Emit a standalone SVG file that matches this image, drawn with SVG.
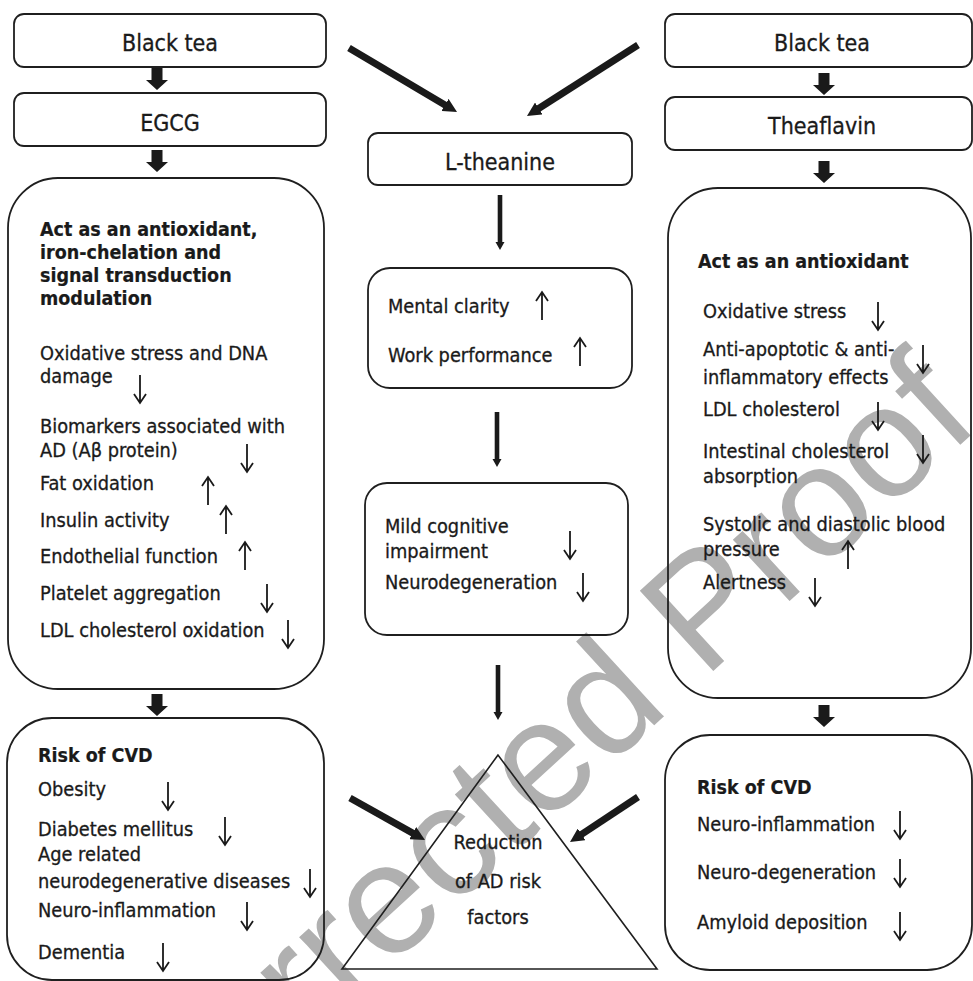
<svg xmlns="http://www.w3.org/2000/svg" xmlns:xlink="http://www.w3.org/1999/xlink" width="973" height="981" viewBox="0 0 973 981">
<style>
.bg{fill:#ffffff}
.box{fill:none;stroke:#1f1f1f;stroke-width:1.8}
.tri{fill:none;stroke:#1f1f1f;stroke-width:1.6}
.t{font-family:'DejaVu Sans Condensed','DejaVu Sans',sans-serif;font-stretch:condensed;font-size:19.8px;fill:#1a1a1a;stroke:#1a1a1a;stroke-width:0.3}
.b{font-weight:bold;font-size:19.5px;stroke-width:0.2}
.h{font-size:23px;text-anchor:middle}
.c{text-anchor:middle}
.sm{fill:none;stroke:#1a1a1a;stroke-width:1.8}
.blk{fill:#1a1a1a}
.dg{stroke:#1a1a1a;stroke-width:7;fill:none}
.wm{font-family:'Liberation Sans',Arial,sans-serif;font-size:158px;fill:#b0b0b0}
</style>
<defs>
<path id="blk" d="M-5.5,0 H5.5 V12 H11 L0,22 L-11,12 H-5.5 Z"/>
<path id="thin" d="M-2.3,0 H2.3 V47 H4.5 L0,55 L-4.5,47 H-2.3 Z"/>
<path id="dn" d="M0,0 V28 M-6,19 L0,28 L6,19"/>
<path id="up" d="M0,28 V0 M-6,9 L0,0 L6,9"/>
<marker id="ah" markerWidth="14" markerHeight="14" refX="2" refY="7" orient="auto" markerUnits="userSpaceOnUse"><path d="M0,0 L14,7 L0,14 z" fill="#1a1a1a"/></marker>
</defs>
<rect class="bg" x="0" y="0" width="973" height="981"/>
<text class="wm" transform="translate(160,1178) rotate(-42.5)">Corrected Proof</text>

<g id="connectors">
<use href="#blk" class="blk" x="157" y="68"/>
<use href="#blk" class="blk" x="157" y="150"/>
<use href="#blk" class="blk" x="157" y="694"/>
<use href="#blk" class="blk" x="824" y="73"/>
<use href="#blk" class="blk" x="824" y="161"/>
<use href="#blk" class="blk" x="824" y="705"/>
<use href="#thin" class="blk" x="500" y="195"/>
<use href="#thin" class="blk" x="497" y="412"/>
<use href="#thin" class="blk" x="498" y="665"/>
<line class="dg" x1="349" y1="48" x2="446.7" y2="105.9" marker-end="url(#ah)"/>
<line class="dg" x1="638" y1="45" x2="537.1" y2="109.5" marker-end="url(#ah)"/>
<line class="dg" x1="350" y1="798" x2="414.5" y2="834.1" marker-end="url(#ah)"/>
<line class="dg" x1="638" y1="797" x2="580" y2="835.4" marker-end="url(#ah)"/>
</g>

<g id="black-tea-left">
<rect class="box" x="14" y="14" width="312" height="53" rx="10"/>
<text class="t h" x="170" y="51">Black tea</text>
</g>
<g id="egcg">
<rect class="box" x="14" y="93" width="312" height="53" rx="10"/>
<text class="t h" x="170" y="131">EGCG</text>
</g>
<g id="egcg-effects">
<rect class="box" x="8" y="178" width="316" height="511" rx="50"/>
<text class="t b" x="40" y="236">Act as an antioxidant,</text>
<text class="t b" x="40" y="259">iron-chelation  and</text>
<text class="t b" x="40" y="282">signal transduction</text>
<text class="t b" x="40" y="305">modulation</text>
<text class="t" x="40" y="360">Oxidative  stress and DNA</text>
<text class="t" x="40" y="383">damage</text>
<use href="#dn" class="sm" x="140" y="375"/>
<text class="t" x="40" y="433">Biomarkers  associated  with</text>
<text class="t" x="40" y="457">AD (Aβ protein)</text>
<use href="#dn" class="sm" x="247" y="444"/>
<text class="t" x="40" y="490">Fat oxidation</text>
<use href="#up" class="sm" x="208" y="477"/>
<text class="t" x="40" y="527">Insulin  activity</text>
<use href="#up" class="sm" x="226" y="506"/>
<text class="t" x="40" y="563">Endothelial  function</text>
<use href="#up" class="sm" x="245" y="542"/>
<text class="t" x="40" y="600">Platelet aggregation</text>
<use href="#dn" class="sm" x="267" y="584"/>
<text class="t" x="40" y="637">LDL cholesterol oxidation</text>
<use href="#dn" class="sm" x="288" y="620"/>
</g>
<g id="cvd-left">
<rect class="box" x="7" y="718" width="317" height="262" rx="45"/>
<text class="t b" x="38" y="762">Risk  of CVD</text>
<text class="t" x="38" y="796">Obesity</text>
<use href="#dn" class="sm" x="168" y="782"/>
<text class="t" x="38" y="836">Diabetes  mellitus</text>
<use href="#dn" class="sm" x="225" y="817"/>
<text class="t" x="38" y="861">Age related</text>
<text class="t" x="38" y="888">neurodegenerative  diseases</text>
<use href="#dn" class="sm" x="310" y="869"/>
<text class="t" x="38" y="917">Neuro-inflammation</text>
<use href="#dn" class="sm" x="247" y="902"/>
<text class="t" x="38" y="959">Dementia</text>
<use href="#dn" class="sm" x="163" y="943"/>
</g>

<g id="l-theanine">
<rect class="box" x="368" y="133" width="264" height="52" rx="10"/>
<text class="t h" x="500" y="170">L-theanine</text>
</g>
<g id="mental">
<rect class="box" x="368" y="268" width="264" height="120" rx="22"/>
<text class="t" x="388" y="313">Mental clarity</text>
<use href="#up" class="sm" x="542" y="292"/>
<text class="t" x="388" y="362">Work performance</text>
<use href="#up" class="sm" x="580" y="338"/>
</g>
<g id="cognitive">
<rect class="box" x="365" y="483" width="263" height="152" rx="22"/>
<text class="t" x="385" y="533">Mild cognitive</text>
<text class="t" x="385" y="558">impairment</text>
<use href="#dn" class="sm" x="570" y="531"/>
<text class="t" x="385" y="589">Neurodegeneration</text>
<use href="#dn" class="sm" x="583" y="573"/>
</g>
<g id="reduction">
<polygon class="tri" points="498,755 342,969 657,969"/>
<text class="t c" x="498" y="849">Reduction</text>
<text class="t c" x="498" y="888">of AD  risk</text>
<text class="t c" x="498" y="924">factors</text>
</g>

<g id="black-tea-right">
<rect class="box" x="665" y="14" width="307" height="53" rx="10"/>
<text class="t h" x="822" y="51">Black tea</text>
</g>
<g id="theaflavin">
<rect class="box" x="665" y="97" width="307" height="53" rx="10"/>
<text class="t h" x="822" y="134">Theaflavin</text>
</g>
<g id="theaflavin-effects">
<rect class="box" x="668" y="188" width="303" height="510" rx="50"/>
<text class="t b" x="698" y="268">Act as an antioxidant</text>
<text class="t" x="703" y="318">Oxidative  stress</text>
<use href="#dn" class="sm" x="878" y="302"/>
<text class="t" x="703" y="356">Anti-apoptotic  &amp; anti-</text>
<text class="t" x="703" y="384">inflammatory  effects</text>
<use href="#dn" class="sm" x="923" y="345"/>
<text class="t" x="703" y="416">LDL  cholesterol</text>
<use href="#dn" class="sm" x="878" y="402"/>
<text class="t" x="703" y="458">Intestinal  cholesterol</text>
<text class="t" x="703" y="483">absorption</text>
<use href="#dn" class="sm" x="923" y="435"/>
<text class="t" x="703" y="531">Systolic and diastolic blood</text>
<text class="t" x="703" y="556">pressure</text>
<use href="#up" class="sm" x="848" y="541"/>
<text class="t" x="703" y="589">Alertness</text>
<use href="#dn" class="sm" x="815" y="578"/>
</g>
<g id="cvd-right">
<rect class="box" x="665" y="735" width="307" height="235" rx="45"/>
<text class="t b" x="697" y="794">Risk  of CVD</text>
<text class="t" x="697" y="831">Neuro-inflammation</text>
<use href="#dn" class="sm" x="900" y="811"/>
<text class="t" x="697" y="879">Neuro-degeneration</text>
<use href="#dn" class="sm" x="900" y="859"/>
<text class="t" x="697" y="929">Amyloid  deposition</text>
<use href="#dn" class="sm" x="900" y="912"/>
</g>
</svg>
